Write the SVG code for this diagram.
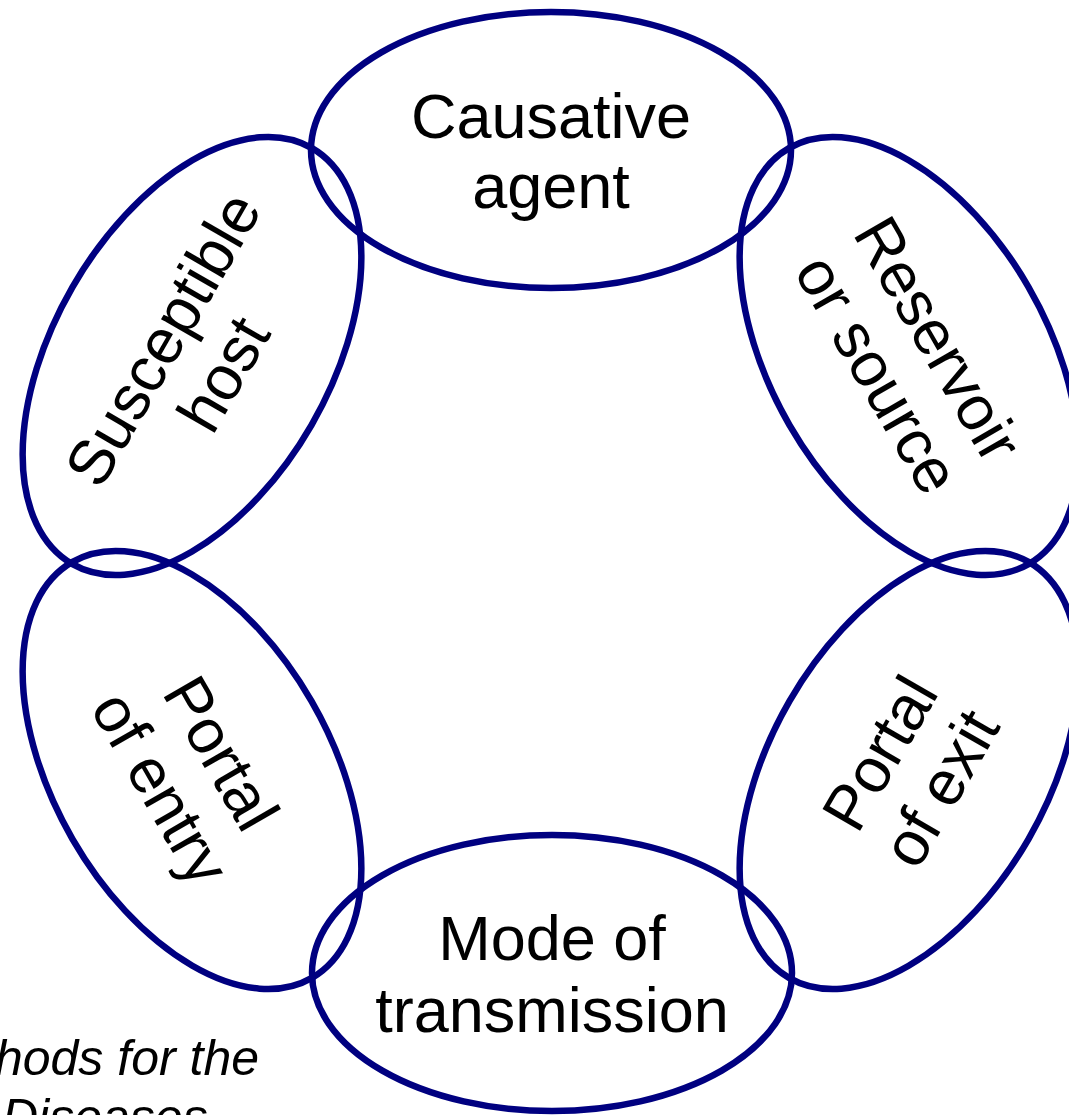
<svg xmlns="http://www.w3.org/2000/svg" width="1069" height="1115" viewBox="0 0 1069 1115">
<style>
.ring{fill:none;stroke:#000080;stroke-width:6.5}
.lbl{font-family:"Liberation Sans",Arial,sans-serif;font-size:63px;fill:#000;text-anchor:middle}
.note{font-family:"Liberation Sans",Arial,sans-serif;font-size:50px;font-style:italic;fill:#000}
</style>
<rect width="1069" height="1115" fill="#fff"/>
<g id="causative-agent" transform="translate(551,150)">
<ellipse class="ring" cx="0" cy="0" rx="240" ry="138"/>
<text class="lbl"><tspan x="0" y="-12">Causative</tspan><tspan x="0" y="58">agent</tspan></text>
</g>
<g id="reservoir" transform="translate(909,356) rotate(60)">
<ellipse class="ring" cx="0" cy="0" rx="240" ry="138"/>
<text class="lbl"><tspan x="0" y="-12">Reservoir</tspan><tspan x="0" y="58">or source</tspan></text>
</g>
<g id="portal-of-exit" transform="translate(909,770) rotate(-60)">
<ellipse class="ring" cx="0" cy="0" rx="240" ry="138"/>
<text class="lbl"><tspan x="0" y="-12">Portal</tspan><tspan x="0" y="58">of exit</tspan></text>
</g>
<g id="mode-of-transmission" transform="translate(552,973)">
<ellipse class="ring" cx="0" cy="0" rx="240" ry="138"/>
<text class="lbl"><tspan x="0" y="-13">Mode of</tspan><tspan x="0" y="59">transmission</tspan></text>
</g>
<g id="portal-of-entry" transform="translate(192,770) rotate(60)">
<ellipse class="ring" cx="0" cy="0" rx="240" ry="138"/>
<text class="lbl"><tspan x="0" y="-12">Portal</tspan><tspan x="0" y="58">of entry</tspan></text>
</g>
<g id="susceptible-host" transform="translate(192,356) rotate(-60)">
<ellipse class="ring" cx="0" cy="0" rx="240" ry="138"/>
<text class="lbl"><tspan x="0" y="-12">Susceptible</tspan><tspan x="0" y="58">host</tspan></text>
</g>
<g id="connectors"></g>
<g id="caption">
<text class="note" x="259" y="1075" text-anchor="end">hods for the</text>
<text class="note" x="2" y="1134">Diseases</text>
</g>
</svg>
